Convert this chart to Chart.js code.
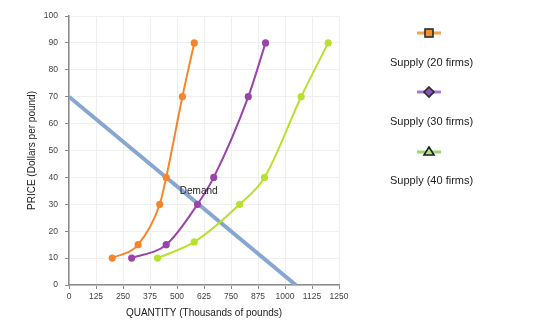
<!DOCTYPE html>
<html>
<head>
<meta charset="utf-8">
<script src="https://cdn.jsdelivr.net/npm/chart.js@4"></script>
<style>
  html, body { margin: 0; padding: 0; background: #fff; }
  #wrap { position: relative; width: 560px; height: 333px; font-family: "Liberation Sans", Arial, sans-serif; }
  #chart { position: absolute; left: 0; top: 0; }
  .leg-icon { position: absolute; width: 24px; height: 14px; }
  .leg-text { position: absolute; font-size: 11px; color: #222; white-space: nowrap; }
</style>
</head>
<body>
<div id="wrap">
  <canvas id="chart" width="560" height="333"></canvas>

  <svg class="leg-icon" style="left:417px;top:26px" viewBox="0 0 24 14">
    <line x1="0" y1="7" x2="24" y2="7" stroke="#f7a447" stroke-width="3"/>
    <rect x="8" y="3" width="8" height="8" fill="#f2902b" stroke="#2b2b2b" stroke-width="1.6"/>
  </svg>
  <div class="leg-text" style="left:390px;top:56px">Supply (20 firms)</div>

  <svg class="leg-icon" style="left:417px;top:85px" viewBox="0 0 24 14">
    <line x1="0" y1="7" x2="24" y2="7" stroke="#a77ad2" stroke-width="3"/>
    <polygon points="12,2 17,7 12,12 7,7" fill="#8b4fb6" stroke="#2b2b2b" stroke-width="1.6"/>
  </svg>
  <div class="leg-text" style="left:390px;top:115px">Supply (30 firms)</div>

  <svg class="leg-icon" style="left:417px;top:144px" viewBox="0 0 24 14">
    <line x1="0" y1="8" x2="24" y2="8" stroke="#9fd672" stroke-width="3"/>
    <polygon points="12,3 17,11 7,11" fill="#b7e07c" stroke="#1e1e1e" stroke-width="1.6"/>
  </svg>
  <div class="leg-text" style="left:390px;top:174px">Supply (40 firms)</div>
</div>

<script>
/* ---- data ---- */
const QTY_TICKS  = [0, 125, 250, 375, 500, 625, 750, 875, 1000, 1125, 1250];
const PRICE_TICKS = [0, 10, 20, 30, 40, 50, 60, 70, 80, 90, 100];

const SUPPLY_20_QTY   = [200, 320, 420, 450, 525, 580];
const SUPPLY_20_PRICE = [10, 15, 30, 40, 70, 90];

const SUPPLY_30_QTY   = [290, 450, 595, 670, 830, 910];
const SUPPLY_30_PRICE = [10, 15, 30, 40, 70, 90];

const SUPPLY_40_QTY   = [410, 580, 790, 905, 1075, 1200];
const SUPPLY_40_PRICE = [10, 16, 30, 40, 70, 90];

const DEMAND_QTY   = [0, 1050];
const DEMAND_PRICE = [70, 0];

const DEMAND_LABEL = { text: 'Demand', x: 513, y: 35 };

const toPoints = (xs, ys) => xs.map((x, i) => ({ x: x, y: ys[i] }));

/* ---- helpers ---- */
const FONT = '"Liberation Sans", Arial, sans-serif';

function supplySet(label, xs, ys, color) {
  return {
    label: label,
    data: toPoints(xs, ys),
    showLine: true,
    borderColor: color,
    backgroundColor: color,
    borderWidth: 2,
    pointRadius: 2.6,
    pointHoverRadius: 2.6,
    cubicInterpolationMode: 'monotone',
    order: 1,
  };
}

// writes the "Demand" label next to the demand line
const demandLabel = {
  id: 'demandLabel',
  afterDatasetsDraw(chart) {
    const { ctx, scales } = chart;
    ctx.save();
    ctx.font = '10px ' + FONT;
    ctx.fillStyle = '#222';
    ctx.textAlign = 'left';
    ctx.textBaseline = 'middle';
    ctx.fillText(DEMAND_LABEL.text,
      scales.x.getPixelForValue(DEMAND_LABEL.x),
      scales.y.getPixelForValue(DEMAND_LABEL.y));
    ctx.restore();
  },
};

new Chart(document.getElementById('chart'), {
  type: 'scatter',
  data: {
    datasets: [
      supplySet('Supply (20 firms)', SUPPLY_20_QTY, SUPPLY_20_PRICE, '#f6852a'),
      supplySet('Supply (30 firms)', SUPPLY_30_QTY, SUPPLY_30_PRICE, '#9a44a9'),
      supplySet('Supply (40 firms)', SUPPLY_40_QTY, SUPPLY_40_PRICE, '#b8e12e'),
      {
        label: 'Demand',
        data: toPoints(DEMAND_QTY, DEMAND_PRICE),
        showLine: true,
        borderColor: '#88a7d0',
        backgroundColor: '#88a7d0',
        borderWidth: 4,
        pointRadius: 0,
        order: 2,
      },
    ],
  },
  options: {
    responsive: false,
    animation: false,
    layout: { padding: { left: 0, top: 16, right: 221, bottom: 0 } },
    plugins: {
      legend: { display: false },
      tooltip: { enabled: false },
    },
    scales: {
      x: {
        type: 'linear',
        min: QTY_TICKS[0],
        max: QTY_TICKS[QTY_TICKS.length - 1],
        afterBuildTicks: s => { s.ticks = QTY_TICKS.map(v => ({ value: v })); },
        afterFit: s => { s.height = 48; },
        grid: { color: '#efefef', tickColor: '#8a8a8a', tickLength: 4 },
        border: { color: '#8a8a8a', width: 1.5 },
        ticks: {
          color: '#444', font: { family: FONT, size: 8.5 }, padding: 3, maxRotation: 0,
          callback: v => String(v),
        },
        title: {
          display: true,
          text: 'QUANTITY (Thousands of pounds)',
          color: '#222',
          font: { family: FONT, size: 10 },
          padding: { top: 0, bottom: 14 },
        },
      },
      y: {
        type: 'linear',
        min: PRICE_TICKS[0],
        max: PRICE_TICKS[PRICE_TICKS.length - 1],
        afterBuildTicks: s => { s.ticks = PRICE_TICKS.map(v => ({ value: v })); },
        afterFit: s => { s.width = 69; },
        grid: { color: '#efefef', tickColor: '#8a8a8a', tickLength: 4 },
        border: { color: '#8a8a8a', width: 1.5 },
        ticks: { color: '#444', font: { family: FONT, size: 8.5 }, padding: 7 },
        title: {
          display: true,
          text: 'PRICE (Dollars per pound)',
          color: '#222',
          font: { family: FONT, size: 10 },
          padding: { top: 26, bottom: 0 },
        },
      },
    },
  },
  plugins: [demandLabel],
});
</script>
</body>
</html>
